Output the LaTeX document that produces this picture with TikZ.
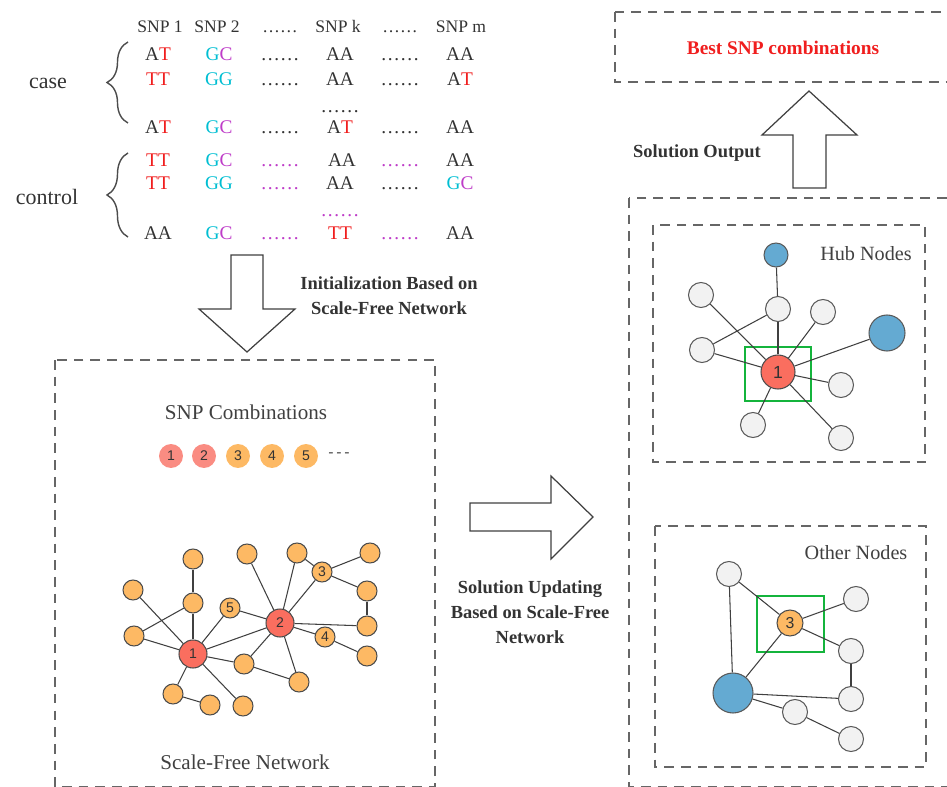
\documentclass[tikz,border=0pt]{standalone}
\usepackage{fontspec}
\setmainfont{Liberation Serif}
\newfontfamily\numfont{Liberation Sans}
\usetikzlibrary{decorations.pathreplacing}

\definecolor{snpred}{RGB}{240,30,30}
\definecolor{snpcyan}{RGB}{0,190,210}
\definecolor{snpmag}{RGB}{190,60,200}
\definecolor{hubred}{RGB}{250,110,95}
\definecolor{palered}{RGB}{250,140,130}
\definecolor{nodeorange}{RGB}{253,185,100}
\definecolor{nodeblue}{RGB}{100,170,210}
\definecolor{nodegray}{RGB}{242,242,242}
\definecolor{boxgreen}{RGB}{20,180,60}

\newcommand{\snpR}[1]{\textcolor{snpred}{#1}}
\newcommand{\snpG}[1]{\textcolor{snpcyan}{#1}}
\newcommand{\snpC}[1]{\textcolor{snpmag}{#1}}

\begin{document}
\begin{tikzpicture}[x=0.02cm,y=-0.02cm,
    every node/.style={text=black!80},
    head/.style={font=\fontsize{10}{12}\selectfont,text height=0.75em,text depth=0.25em,inner sep=0pt},
    gen/.style={font=\fontsize{11}{13}\selectfont,text height=0.75em,text depth=0.25em,inner sep=0pt},
    grp/.style={font=\fontsize{12.5}{15}\selectfont},
    caption/.style={font=\fontsize{12}{14}\selectfont,text=black!75},
    steplabel/.style={font=\bfseries\fontsize{10.5}{14.2}\selectfont,align=center},
    dashbox/.style={draw=black!60,dash pattern=on 5.5pt off 4pt,line width=0.8pt},
    bigarrow/.style={draw=black!75,fill=white,line width=0.7pt},
    brace/.style={decorate,decoration={brace,amplitude=0.42cm},draw=black!70,line width=0.8pt},
    edge/.style={draw=black!75,line width=0.6pt},
    seed/.style={circle,minimum size=0.48cm,inner sep=0pt,font=\numfont\fontsize{8}{9}\selectfont},
    netnode/.style={circle,draw=black!70,fill=nodeorange,minimum size=0.4cm,inner sep=0pt,line width=0.6pt,font=\numfont\fontsize{8}{9}\selectfont},
    hubnode/.style={netnode,fill=hubred,minimum size=0.56cm},
    graynode/.style={circle,draw=black!65,fill=nodegray,minimum size=0.5cm,inner sep=0pt,line width=0.6pt},
    bluenode/.style={graynode,fill=nodeblue},
    greenbox/.style={draw=boxgreen,line width=1.2pt}]
\useasboundingbox (0,0) rectangle (947,787);

% genotype table
\foreach \x/\txt [count=\i] in {160/SNP 1,217/SNP 2,280/……,338/SNP k,400/……,461/SNP m}
    \node[head] (h\i) at (\x,28) {\txt};
\foreach \x/\txt [count=\i] in {158/A\snpR{T},219/\snpG{G}\snpC{C},280/……,340/AA,400/……,460/AA}
    \node[gen] (ra\i) at (\x,56) {\txt};
\foreach \x/\txt [count=\i] in {158/\snpR{TT},219/\snpG{GG},280/……,340/AA,400/……,460/A\snpR{T}}
    \node[gen] (rb\i) at (\x,81) {\txt};
\node[gen] (rcdots) at (340,108) {……};
\foreach \x/\txt [count=\i] in {158/A\snpR{T},219/\snpG{G}\snpC{C},280/……,340/A\snpR{T},400/……,460/AA}
    \node[gen] (rd\i) at (\x,129) {\txt};
\foreach \x/\txt [count=\i] in {158/\snpR{TT},219/\snpG{G}\snpC{C},280/\snpC{……},342/AA,400/\snpC{……},460/AA}
    \node[gen] (re\i) at (\x,162) {\txt};
\foreach \x/\txt [count=\i] in {158/\snpR{TT},219/\snpG{GG},280/\snpC{……},340/AA,400/……,460/\snpG{G}\snpC{C}}
    \node[gen] (rf\i) at (\x,185) {\txt};
\node[gen] (rgdots) at (340,212) {\snpC{……}};
\foreach \x/\txt [count=\i] in {158/AA,219/\snpG{G}\snpC{C},280/\snpC{……},340/\snpR{TT},400/\snpC{……},460/AA}
    \node[gen] (rh\i) at (\x,235) {\txt};

\node[grp] (case) at (48,83) {case};
\node[grp] (control) at (47,197) {control};
\draw[brace] (128,123) -- (128,42);
\draw[brace] (128,237) -- (128,153);

% initialization
\draw[bigarrow] (231,255) -- (263,255) -- (263,309) -- (295,309) -- (247,352)
    -- (199,309) -- (231,309) -- cycle;
\node[steplabel] (init) at (389,296) {Initialization Based on\\Scale-Free Network};

% left box
\draw[dashbox] (55,360) rectangle (435,787);
\node[caption] (comb) at (246,412) {SNP Combinations};
\foreach \x/\c [count=\i] in {171/palered,204/palered,238/nodeorange,272/nodeorange,306/nodeorange}
    \node[seed,fill=\c] (s\i) at (\x,456) {\i};
\node[text=black!70,font=\numfont\small] (sdots) at (339,455) {-\,-\,-};

\node[hubnode] (n1) at (193,654) {1};
\node[hubnode] (n2) at (280,623) {2};
\node[netnode] (n3) at (322,572) {3};
\node[netnode] (n4) at (325,637) {4};
\node[netnode] (n5) at (230,608) {5};
\node[netnode] (na) at (193,559) {};
\node[netnode] (nb) at (133,590) {};
\node[netnode] (nc) at (193,603) {};
\node[netnode] (nd) at (134,636) {};
\node[netnode] (ne) at (173,694) {};
\node[netnode] (nf) at (210,705) {};
\node[netnode] (ng) at (243,706) {};
\node[netnode] (nh) at (244,664) {};
\node[netnode] (ni) at (299,682) {};
\node[netnode] (nj) at (247,554) {};
\node[netnode] (nk) at (297,553) {};
\node[netnode] (nl) at (370,553) {};
\node[netnode] (nm) at (367,591) {};
\node[netnode] (nn) at (367,626) {};
\node[netnode] (no) at (367,656) {};
\foreach \a/\b in {n1/nb,n1/nc,nc/na,nc/nd,n1/nd,n1/n5,n1/n2,n1/nh,n1/ne,n1/ng,ne/nf,
    n2/n5,n2/nj,n2/nk,n2/n3,n2/nn,n2/n4,n2/nh,n2/ni,nh/ni,n3/nk,n3/nl,n3/nm,nm/nn,n4/no}
    \draw[edge] (\a) -- (\b);
\node[caption] (sfn) at (245,762) {Scale-Free Network};

% updating
\draw[bigarrow] (470,503) -- (551,503) -- (551,476) -- (593,517) -- (551,559)
    -- (551,531) -- (470,531) -- cycle;
\node[steplabel] (update) at (530,612) {Solution Updating\\Based on Scale-Free\\Network};

% output
\draw[dashbox] (615,12) rectangle (950,82);
\node[steplabel,text=snpred,font=\bfseries\fontsize{11}{13}\selectfont] (best) at (783,48) {Best SNP combinations};
\draw[bigarrow] (809,91) -- (857,135) -- (826,135) -- (826,188) -- (793,188)
    -- (793,135) -- (762,135) -- cycle;
\node[steplabel] (output) at (697,153) {Solution Output};
\draw[dashbox] (629,198) rectangle (950,787);

% hub nodes
\draw[dashbox] (653,225) rectangle (925,462);
\node[caption,font=\fontsize{11.5}{14}\selectfont] (hubtxt) at (866,254) {Hub Nodes};
\draw[greenbox] (745,347) rectangle (811,401);
\node[hubnode,minimum size=0.68cm,font=\numfont\fontsize{10}{12}\selectfont] (hc) at (778,372) {1};
\node[bluenode,minimum size=0.48cm] (ht) at (776,255) {};
\node[bluenode,minimum size=0.72cm] (hr) at (887,333) {};
\node[graynode] (hg1) at (701,295) {};
\node[graynode] (hg2) at (778,309) {};
\node[graynode] (hg3) at (823,312) {};
\node[graynode] (hg4) at (702,350) {};
\node[graynode] (hg5) at (841,385) {};
\node[graynode] (hg6) at (753,425) {};
\node[graynode] (hg7) at (841,438) {};
\foreach \a/\b in {hc/hg1,hc/hg2,hg2/ht,hg2/hg4,hc/hg4,hc/hg3,hc/hr,hc/hg5,hc/hg6,hc/hg7}
    \draw[edge] (\a) -- (\b);

% other nodes
\draw[dashbox] (655,526) rectangle (926,767);
\node[caption,font=\fontsize{11.5}{14}\selectfont] (othertxt) at (856,553) {Other Nodes};
\draw[greenbox] (757,596) rectangle (824,652);
\node[netnode,minimum size=0.52cm,font=\numfont\fontsize{9}{11}\selectfont] (oc) at (790,623) {3};
\node[bluenode,minimum size=0.8cm] (ob) at (733,693) {};
\node[graynode] (og1) at (729,574) {};
\node[graynode] (og2) at (856,599) {};
\node[graynode] (og3) at (851,651) {};
\node[graynode] (og4) at (851,699) {};
\node[graynode] (og5) at (795,712) {};
\node[graynode] (og6) at (851,739) {};
\foreach \a/\b in {og1/oc,og1/ob,oc/ob,oc/og2,oc/og3,og3/og4,ob/og4,ob/og5,og5/og6}
    \draw[edge] (\a) -- (\b);
\end{tikzpicture}
\end{document}
